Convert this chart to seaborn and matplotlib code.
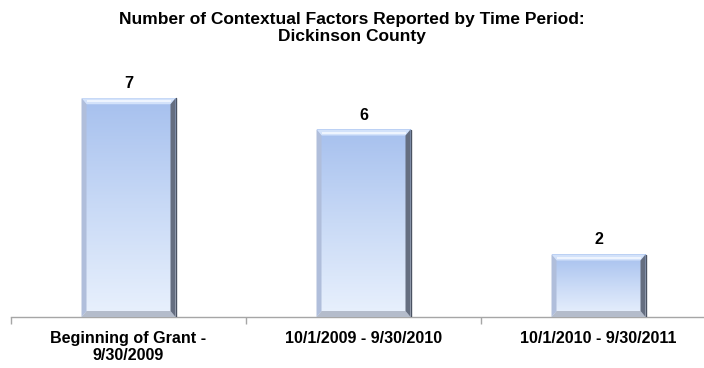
import numpy as np
import pandas as pd
import matplotlib
matplotlib.use("Agg")
import matplotlib.pyplot as plt
from matplotlib.patches import Polygon
from matplotlib.colors import LinearSegmentedColormap
import seaborn as sns

periods = ["Beginning of Grant -\n9/30/2009", "10/1/2009 - 9/30/2010", "10/1/2010 - 9/30/2011"]
factors = [7, 6, 2]

title = "Number of Contextual Factors Reported by Time Period:\nDickinson County"

sns.set_theme(style="white")
plt.rcParams["font.family"] = ["Liberation Sans", "DejaVu Sans"]

df = pd.DataFrame({"period": periods, "factors": factors})

fig = plt.figure(figsize=(7.04, 3.68), dpi=100)
ax = fig.add_axes([11 / 704, 51 / 368, 705 / 704, 250 / 368])

sns.barplot(data=df, x="period", y="factors", ax=ax, width=0.40,
            color="#c4d6f5", saturation=1, edgecolor="none")

ax.set_ylim(0, 8)
ax.set_xlim(-0.5, 2.5)
ax.set_xlabel("")
ax.set_ylabel("")
ax.set_yticks([])
for s in ["top", "right", "left"]:
    ax.spines[s].set_visible(False)
ax.spines["bottom"].set_color("#a6a6a6")
ax.spines["bottom"].set_linewidth(1.0)

# category boundary ticks
ax.set_xticks([0, 1, 2])
ax.set_xticks([-0.5, 0.5, 1.5, 2.5], minor=True)
ax.tick_params(axis="x", which="major", length=0, pad=10)
ax.tick_params(axis="x", which="minor", length=5, color="#a6a6a6", width=1, direction="out")
ax.tick_params(axis="x", which="both", bottom=True)
for lbl in ax.get_xticklabels():
    lbl.set_fontweight("bold")
    lbl.set_fontsize(11.6)
    lbl.set_color("#000000")
    lbl.set_linespacing(1.2)

grad = LinearSegmentedColormap.from_list("barfill", ["#e9f1fd", "#c9daf6", "#a6c0ee"])

fig.canvas.draw()
# pixel -> data scale for bevel thickness
x0, y0 = ax.transData.transform((0, 0))
x1, y1 = ax.transData.transform((1, 1))
px_x = 1.0 / (x1 - x0)
px_y = 1.0 / (y1 - y0)
bw = 5 * px_x
bh = 6 * px_y

for patch, val in zip(ax.patches, factors):
    bx, by = patch.get_x(), patch.get_y()
    w, h = patch.get_width(), patch.get_height()
    patch.set_facecolor("none")
    g = np.linspace(0, 1, 256).reshape(-1, 1)
    ax.imshow(g, cmap=grad, aspect="auto", origin="lower",
              extent=(bx, bx + w, by, by + h), zorder=2, interpolation="bilinear")
    L, R, B, T = bx, bx + w, by, by + h
    # bevel faces
    top = Polygon([(L, T), (R, T), (R - bw, T - bh), (L + bw, T - bh)],
                  closed=True, facecolor="#d3e2fa", edgecolor="none", zorder=3)
    bottom = Polygon([(L, B), (R, B), (R - bw, B + bh), (L + bw, B + bh)],
                     closed=True, facecolor="#b4bccb", edgecolor="none", zorder=3)
    left = Polygon([(L, B), (L, T), (L + bw, T - bh), (L + bw, B + bh)],
                   closed=True, facecolor="#b0bedb", edgecolor="none", zorder=3)
    right = Polygon([(R, B), (R, T), (R - bw, T - bh), (R - bw, B + bh)],
                    closed=True, facecolor="#656e80", edgecolor="none", zorder=3)
    for p in (top, bottom, left, right):
        ax.add_patch(p)
    # light rim along the top bevel
    ax.plot([L + bw, R - bw], [T - bh * 0.5, T - bh * 0.5], color="#f2f7ff",
            lw=1.3, zorder=4, solid_capstyle="butt")
    # thin dark outer line on the right edge
    ax.plot([R, R], [B, T], color="#4a5262", lw=1.0, zorder=4)
    ax.text(bx + w / 2, T + 7 * px_y, f"{val}", ha="center", va="bottom",
            fontsize=11.6, fontweight="bold", color="#000000", zorder=5)

ax.set_xlim(-0.5, 2.5)
ax.set_ylim(0, 8)

fig.text(0.5, 1 - 28 / 368, title, ha="center", va="center", fontsize=12.5,
         fontweight="bold", color="#000000", linespacing=1.15)

fig.savefig("out.png", dpi=100)
